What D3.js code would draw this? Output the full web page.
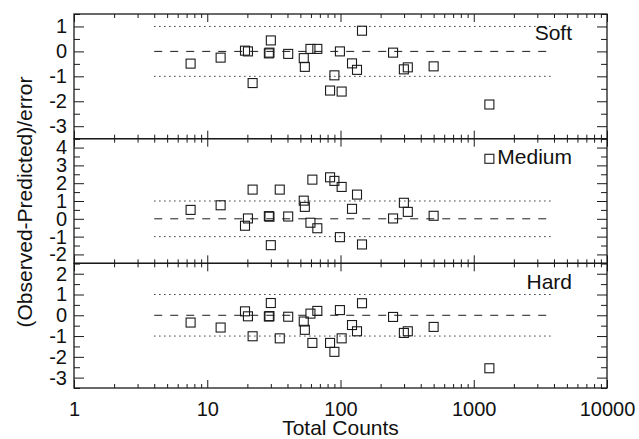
<!DOCTYPE html>
<html><head><meta charset="utf-8">
<script src="https://cdn.jsdelivr.net/npm/d3@7"></script>
<style>
html,body{margin:0;padding:0;background:#fff;}
svg{display:block;}
text{font-family:"Liberation Sans",Arial,Helvetica,sans-serif;fill:#111;}
</style></head>
<body>
<svg id="chart" width="639" height="439"></svg>
<script>
// ---- data ----
const counts = [7.5, 12.6, 19.2, 20.2, 21.9, 29.0, 29.3, 30.0, 35, 40.5, 53, 54, 59.5, 61.5, 67, 83.5, 90, 99, 102, 122, 133, 145, 248, 299, 320, 500, 1310];
const softValues   = [-0.49,-0.25,0.03,0.0,-1.27,-0.08,-0.05,0.44,null,-0.1,-0.27,-0.62,0.1,null,0.1,-1.57,-0.96,0.0,-1.61,-0.48,-0.74,0.83,-0.05,-0.72,-0.64,-0.6,-2.13];
const mediumValues = [0.5,0.76,-0.39,0.02,1.64,0.15,0.12,-1.48,1.64,0.13,1.02,0.67,-0.22,2.2,-0.53,2.33,2.13,-1.03,1.79,0.56,1.36,-1.44,0.02,0.9,0.39,0.17,3.37];
const hardValues   = [-0.35,-0.59,0.19,-0.05,-1.01,-0.06,-0.04,0.59,-1.11,-0.07,-0.3,-0.7,0.08,-1.33,0.21,-1.33,-1.76,0.25,-1.11,-0.47,-0.77,0.58,-0.08,-0.85,-0.77,-0.56,-2.55];
const panelNames = ["Soft", "Medium", "Hard"];
const panelDomains = [[-3.5, 1.5], [-2.5, 4.5], [-3.5, 2.5]];
const panelTicks = [[1, 0, -1, -2, -3], [4, 3, 2, 1, 0, -1, -2], [2, 1, 0, -1, -2, -3]];
const xTickLabels = [1, 10, 100, 1000, 10000];
const refRange = [4, 4000];
const refLevels = [-1, 0, 1];

// ---- layout ----
const svg = d3.select("#chart");
const pLeft = 74, pRight = 607, pTop = 14, pBottom = 388;
const panelH = (pBottom - pTop) / 3;
const ink = "#1a1a1a";

const x = d3.scaleLog().domain([1, 10000]).range([pLeft, pRight]);
const minorX = [];
for (let e = 0; e < 4; e++) for (let m = 2; m <= 9; m++) minorX.push(m * Math.pow(10, e));

const series = [softValues, mediumValues, hardValues];
const bare = a => { a.select(".domain").remove(); a.selectAll("text").remove(); };

series.forEach((vals, i) => {
  const y0 = pTop + i * panelH, y1 = y0 + panelH;
  const y = d3.scaleLinear().domain(panelDomains[i]).range([y1, y0]);
  const g = svg.append("g");
  const [dlo, dhi] = panelDomains[i];
  const minorY = d3.range(Math.ceil(dlo * 2) / 2, dhi + 0.001, 0.5).filter(v => Math.abs(v - Math.round(v)) > 0.01);

  // reference lines
  refLevels.forEach(l => {
    g.append("line")
      .attr("x1", x(refRange[0])).attr("x2", x(refRange[1]))
      .attr("y1", y(l)).attr("y2", y(l))
      .attr("stroke", ink).attr("stroke-width", 1)
      .attr("stroke-dasharray", l === 0 ? "8,8" : "1.3,3.7");
  });

  // points
  const pts = counts.map((c, j) => ({c, v: vals[j]})).filter(d => d.v !== null);
  g.selectAll("rect.pt").data(pts).enter().append("rect")
    .attr("class", "pt")
    .attr("x", d => x(d.c) - 4.5).attr("y", d => y(d.v) - 4.5)
    .attr("width", 9).attr("height", 9)
    .attr("fill", "none").attr("stroke", ink).attr("stroke-width", 1.1);

  // y axes, left and right, inward ticks
  g.append("g").attr("transform", `translate(${pLeft},0)`)
    .call(d3.axisLeft(y).tickValues(panelTicks[i]).tickSize(-10).tickPadding(7).tickFormat(d => String(d)))
    .call(a => a.select(".domain").remove());
  g.append("g").attr("transform", `translate(${pLeft},0)`)
    .call(d3.axisLeft(y).tickValues(minorY).tickSize(-6)).call(bare);
  g.append("g").attr("transform", `translate(${pRight},0)`)
    .call(d3.axisRight(y).tickValues(panelTicks[i]).tickSize(-10)).call(bare);
  g.append("g").attr("transform", `translate(${pRight},0)`)
    .call(d3.axisRight(y).tickValues(minorY).tickSize(-6)).call(bare);

  // x axes top & bottom, inward ticks
  g.append("g").attr("transform", `translate(0,${y0})`)
    .call(d3.axisTop(x).tickValues(xTickLabels).tickSize(-8)).call(bare);
  g.append("g").attr("transform", `translate(0,${y0})`)
    .call(d3.axisTop(x).tickValues(minorX).tickSize(-4)).call(bare);
  const bx = g.append("g").attr("transform", `translate(0,${y1})`)
    .call(d3.axisBottom(x).tickValues(xTickLabels).tickSize(-8).tickPadding(14).tickFormat(d => String(d)));
  if (i === 2) bx.select(".domain").remove(); else bx.call(bare);
  g.append("g").attr("transform", `translate(0,${y1})`)
    .call(d3.axisBottom(x).tickValues(minorX).tickSize(-4)).call(bare);

  // frame
  g.append("rect").attr("x", pLeft).attr("y", y0).attr("width", pRight - pLeft).attr("height", panelH)
    .attr("fill", "none").attr("stroke", ink).attr("stroke-width", 1.3);

  // panel name
  g.append("text").attr("x", 572).attr("y", y0 + 25.5).attr("text-anchor", "end")
    .style("font-size", "21px").text(panelNames[i]);
});

svg.selectAll(".tick line").attr("stroke", ink).attr("stroke-width", 1);
svg.selectAll(".tick text").style("font-size", "20px").attr("fill", "#111")
  .style("font-family", '"Liberation Sans",Arial,Helvetica,sans-serif');

// axis titles
svg.append("text").attr("x", (pLeft + pRight) / 2).attr("y", 434.5).attr("text-anchor", "middle")
  .style("font-size", "21px").text("Total Counts");
svg.append("text").attr("transform", "translate(32,202) rotate(-90)").attr("text-anchor", "middle")
  .style("font-size", "21px").text("(Observed-Predicted)/error");
</script>
</body></html>
